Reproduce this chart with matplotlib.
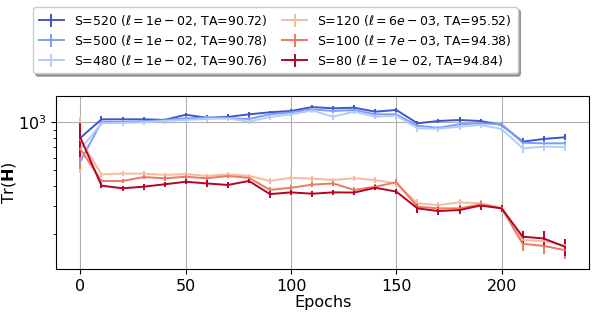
import numpy as np
import matplotlib
matplotlib.use('Agg')
import matplotlib.pyplot as plt

# epoch grid
epochs = [0, 10, 20, 30, 40, 50, 60, 70, 80, 90, 100, 110,
          120, 130, 140, 150, 160, 170, 180, 190, 200, 210, 220, 230]

# Tr(H) per run
tr_520 = [800, 1044, 1044, 1044, 1035, 1115, 1068, 1080, 1122, 1155, 1177, 1245,
          1223, 1234, 1165, 1194, 986, 1019, 1034, 1019, 962, 757, 787, 806]
tr_500 = [570, 1009, 1005, 1015, 1030, 1059, 1068, 1059, 1049, 1122, 1155, 1205,
          1177, 1194, 1122, 1122, 952, 925, 972, 986, 972, 746, 739, 739]
tr_480 = [680, 986, 990, 1000, 1020, 1034, 1049, 1059, 1009, 1080, 1122, 1185,
          1084, 1165, 1084, 1100, 917, 912, 939, 962, 908, 688, 704, 700]
tr_120 = [780, 473, 478, 478, 469, 475, 462, 473, 463, 430, 450, 445,
          436, 447, 436, 415, 312, 304, 316, 312, 293, 184, 181, 171]
tr_100 = [680, 430, 430, 455, 447, 457, 447, 462, 450, 378, 390, 408,
          415, 378, 396, 422, 297, 290, 290, 307, 290, 174, 169, 159]
tr_80 = [800, 402, 387, 396, 410, 425, 415, 406, 430, 356, 365, 358,
         365, 364, 390, 369, 290, 279, 283, 302, 290, 193, 188, 167]

# error bar half-widths
err_520 = [60, 45, 35, 35, 35, 35, 35, 40, 45, 30, 35, 40,
           35, 40, 45, 40, 35, 35, 50, 30, 35, 40, 35, 35]
err_500 = [60, 30, 30, 30, 30, 30, 30, 30, 30, 30, 30, 30,
           30, 30, 30, 35, 30, 30, 30, 30, 30, 30, 30, 30]
err_480 = [110, 40, 40, 35, 40, 35, 45, 40, 40, 40, 40, 45,
           45, 45, 40, 45, 45, 40, 40, 35, 40, 45, 45, 40]
err_120 = [300, 15, 18, 18, 15, 15, 15, 15, 15, 20, 20, 20,
           15, 15, 20, 15, 18, 15, 15, 15, 15, 12, 12, 12]
err_100 = [170, 15, 15, 15, 15, 15, 15, 15, 15, 15, 15, 15,
           15, 15, 15, 18, 15, 15, 15, 15, 15, 18, 18, 20]
err_80 = [190, 15, 15, 18, 15, 15, 20, 15, 15, 18, 15, 15,
          15, 15, 15, 15, 18, 15, 15, 18, 15, 17, 22, 20]

labels = ['S=520 ($\\ell = 1e-02$, TA=90.72)',
          'S=500 ($\\ell = 1e-02$, TA=90.78)',
          'S=480 ($\\ell = 1e-02$, TA=90.76)',
          'S=120 ($\\ell = 6e-03$, TA=95.52)',
          'S=100 ($\\ell = 7e-03$, TA=94.38)',
          'S=80 ($\\ell = 1e-02$, TA=94.84)']

series = [tr_520, tr_500, tr_480, tr_120, tr_100, tr_80]
errors = [err_520, err_500, err_480, err_120, err_100, err_80]
cmap = plt.get_cmap('coolwarm')
colors = [cmap(0.02), cmap(0.2), cmap(0.36), cmap(0.66), cmap(0.82), cmap(1.0)]

fig = plt.figure(figsize=(5.98, 3.2), dpi=100)
ax = fig.add_axes([0.094, 0.159, 0.891, 0.541])

for y, e, c, lab in zip(series, errors, colors, labels):
    ax.errorbar(epochs, y, yerr=e, color=c, label=lab, lw=1.4, elinewidth=1.4,
                capsize=0)

ax.set_yscale('log')
ax.set_ylim(121, 1460)
ax.set_xlim(-11.5, 241.5)
ax.set_xticks([0, 50, 100, 150, 200])
ax.grid(True, which='major', color='#b0b0b0', lw=0.8)
ax.tick_params(axis='both', which='major', labelsize=11.5)
ax.tick_params(axis='y', which='minor', labelleft=False)
ax.set_xlabel('Epochs', fontsize=11.5, labelpad=1)
ax.set_ylabel('Tr($\\mathbf{H}$)', fontsize=11.5, labelpad=0)

fig.legend(loc='upper left', bbox_to_anchor=(0.055, 0.978), ncol=2,
           fontsize=9.0, shadow=True, fancybox=True, labelspacing=0.4,
           columnspacing=1.2, handlelength=2.0, handletextpad=0.8,
           borderpad=0.45, borderaxespad=0)

fig.savefig('out.png', dpi=100)
